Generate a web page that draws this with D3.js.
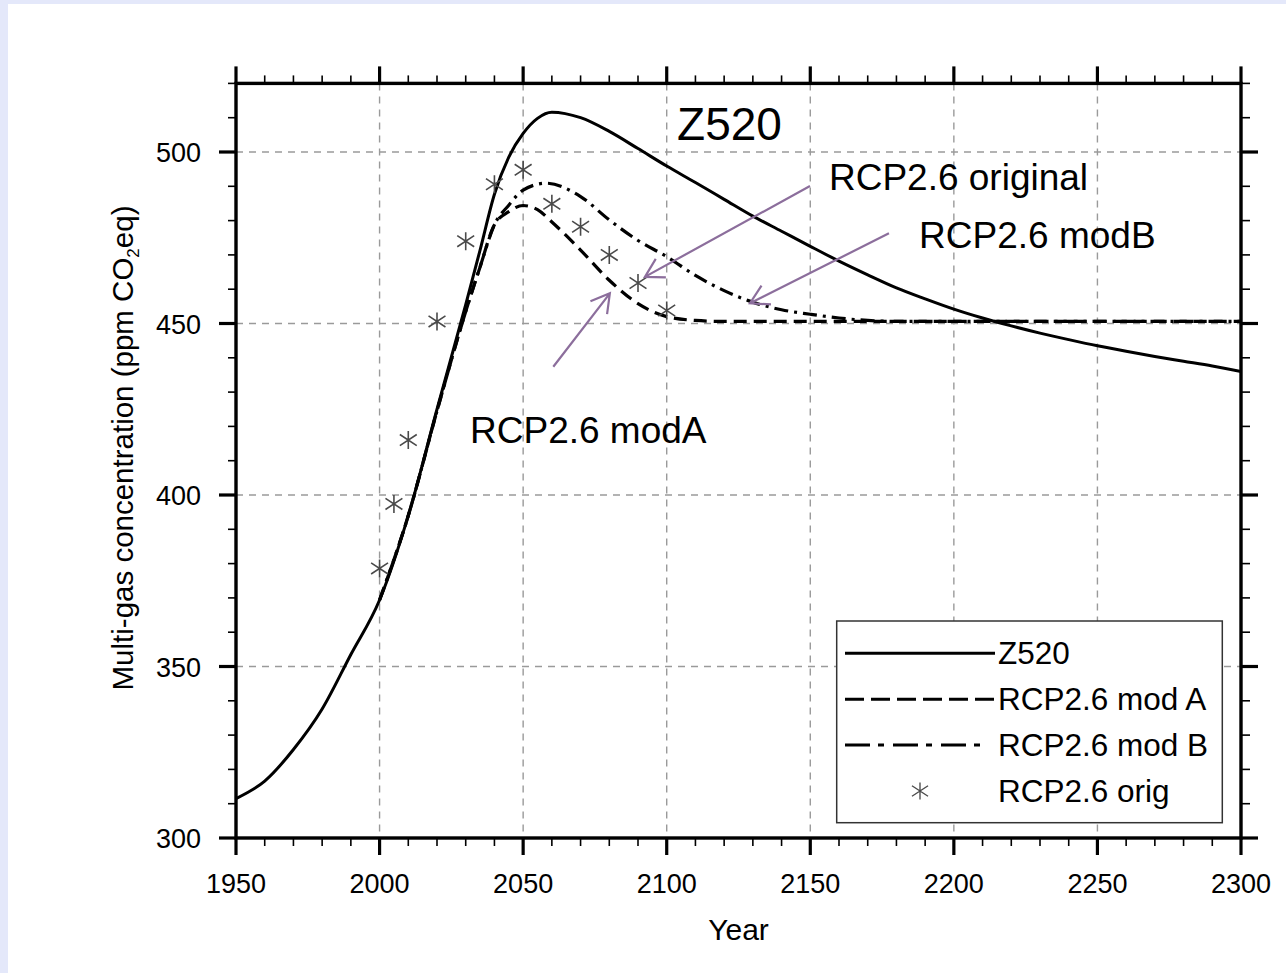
<!DOCTYPE html>
<html><head><meta charset="utf-8">
<script src="https://cdn.jsdelivr.net/npm/d3@7"></script>
<style>
body{margin:0;background:#fff}
svg{display:block}
text{font-family:"Liberation Sans",Arial,Helvetica,sans-serif;fill:#000}
</style>
</head><body>
<svg id="chart" width="1286" height="973"></svg>
<script>
// ---------------- data ----------------
const z520Years  = [1950,1960,1970,1980,1990,2000,2010,2020,2030,2035,2040,2045,2050,2055,2060,2070,2080,2090,2100,2110,2120,2130,2140,2150,2160,2170,2180,2190,2200,2210,2220,2230,2240,2250,2260,2270,2280,2290,2300];
const z520Values = [311.5,316.6,325.8,337.6,353.5,369.4,394.0,425.0,455.5,471.4,487.7,498.5,505.4,509.8,511.6,510.0,506.0,501.0,495.9,491.1,486.2,481.3,476.9,472.5,468.2,464.2,460.4,457.2,454.2,451.6,449.3,447.2,445.3,443.5,441.9,440.4,439.0,437.6,436.0];

const modAYears  = [2000,2010,2020,2030,2035,2040,2045,2050,2055,2060,2070,2080,2090,2100,2110,2120,2150,2200,2250,2300];
const modAValues = [369.4,394.0,424.5,453.5,466.5,478.8,482.6,484.4,483.2,479.6,471.4,462.6,455.8,452.0,450.9,450.6,450.6,450.6,450.6,450.6];

const modBYears  = [2000,2010,2020,2030,2035,2040,2045,2050,2058,2070,2080,2090,2100,2110,2120,2130,2140,2150,2160,2170,2180,2200,2250,2300];
const modBValues = [369.4,394.0,424.5,453.5,466.5,478.8,484.5,488.9,490.9,487.0,480.2,474.2,469.5,464.0,459.6,456.2,454.0,452.7,451.6,450.9,450.6,450.6,450.6,450.6];

const origYears  = [2000,2005,2010,2020,2030,2040,2050,2060,2070,2080,2090,2100];
const origValues = [378.6,397.4,416.0,450.6,474.0,490.6,494.8,484.9,478.2,470.0,461.8,453.8];

const xTickValues = [1950,2000,2050,2100,2150,2200,2250,2300];
const xTickLabels = ["1950","2000","2050","2100","2150","2200","2250","2300"];
const yTickValues = [300,350,400,450,500];
const yTickLabels = ["300","350","400","450","500"];
const xDomain = [1950,2300];
const yDomain = [300,520];

const seriesNames = ["Z520","RCP2.6 mod A","RCP2.6 mod B","RCP2.6 orig"];
const titleText = "Z520";
const xTitle = "Year";

// annotations (anchored in data space)
const annotations = [
  {text:"RCP2.6 original", x:2156.5, y:488.9, from:[2149.9,490.1], to:[2092.4,463.6]},
  {text:"RCP2.6 modB",     x:2187.9, y:472.0, from:[2177.4,476.3], to:[2129.0,455.9]},
  {text:"RCP2.6 modA",     x:2031.5, y:415.2, from:[2060.5,437.4], to:[2080.2,458.8]}
];
const titlePos = {x:2103.6, y:503.6};

// ---------------- layout ----------------
const W = 1286, H = 973;
const L = 236, R = 1241, T = 83.4, B = 838;
const svg = d3.select("#chart");

svg.append("rect").attr("width",W).attr("height",H).attr("fill","#e4e8fa");
svg.append("rect").attr("x",8).attr("y",4).attr("width",W-8).attr("height",H-4).attr("fill","#ffffff");

const x = d3.scaleLinear().domain(xDomain).range([L,R]);
const y = d3.scaleLinear().domain(yDomain).range([B,T]);

// grid
const grid = svg.append("g").attr("stroke","#9a9a9a").attr("stroke-width",1.4).attr("stroke-dasharray","7,6");
xTickValues.filter(v=>v>xDomain[0]&&v<xDomain[1]).forEach(v=>{
  grid.append("line").attr("x1",x(v)).attr("x2",x(v)).attr("y1",T).attr("y2",B);
});
yTickValues.filter(v=>v>yDomain[0]&&v<yDomain[1]).forEach(v=>{
  grid.append("line").attr("y1",y(v)).attr("y2",y(v)).attr("x1",L).attr("x2",R);
});

// lines
const lineGen = (xs,vs)=> d3.line().curve(d3.curveMonotoneX)(xs.map((d,i)=>[x(d),y(vs[i])]));
svg.append("clipPath").attr("id","pc").append("rect").attr("x",L).attr("y",T).attr("width",R-L).attr("height",B-T);
const plot = svg.append("g").attr("clip-path","url(#pc)");

plot.append("path").attr("d",lineGen(z520Years,z520Values)).attr("fill","none").attr("stroke","#000").attr("stroke-width",3);
plot.append("path").attr("d",lineGen(modBYears,modBValues)).attr("fill","none").attr("stroke","#000").attr("stroke-width",3.2).attr("stroke-dasharray","14,6,3,6");
plot.append("path").attr("d",lineGen(modAYears,modAValues)).attr("fill","none").attr("stroke","#000").attr("stroke-width",3.2).attr("stroke-dasharray","13,7");

// asterisk symbol
const star = {draw(ctx,size){const r=Math.sqrt(size)/2;ctx.moveTo(0,-r);ctx.lineTo(0,r);ctx.moveTo(-r*0.94,-r*0.62);ctx.lineTo(r*0.94,r*0.62);ctx.moveTo(-r*0.94,r*0.62);ctx.lineTo(r*0.94,-r*0.62);}};
const starPath = d3.symbol().type(star).size(18*18)();
svg.append("g").selectAll("path").data(origYears).join("path")
  .attr("d",starPath).attr("transform",(d,i)=>`translate(${x(d)},${y(origValues[i])})`)
  .attr("fill","none").attr("stroke","#4a4a4a").attr("stroke-width",1.6);

// frame and ticks
const ax = svg.append("g").attr("stroke","#000");
const xMinor = d3.range(xDomain[0],xDomain[1]+1,10).filter(v=>!xTickValues.includes(v));
const yMinor = d3.range(yDomain[0],yDomain[1]+1,10).filter(v=>!yTickValues.includes(v));
xTickValues.forEach(v=>{
  ax.append("line").attr("x1",x(v)).attr("x2",x(v)).attr("y1",B).attr("y2",B+17).attr("stroke-width",3.2);
  ax.append("line").attr("x1",x(v)).attr("x2",x(v)).attr("y1",T).attr("y2",T-17).attr("stroke-width",3.2);
});
xMinor.forEach(v=>{
  ax.append("line").attr("x1",x(v)).attr("x2",x(v)).attr("y1",B).attr("y2",B+8).attr("stroke-width",1.6);
  ax.append("line").attr("x1",x(v)).attr("x2",x(v)).attr("y1",T).attr("y2",T-8).attr("stroke-width",1.6);
});
yTickValues.forEach(v=>{
  ax.append("line").attr("y1",y(v)).attr("y2",y(v)).attr("x1",L).attr("x2",L-17).attr("stroke-width",3.2);
  ax.append("line").attr("y1",y(v)).attr("y2",y(v)).attr("x1",R).attr("x2",R+17).attr("stroke-width",3.2);
});
yMinor.forEach(v=>{
  ax.append("line").attr("y1",y(v)).attr("y2",y(v)).attr("x1",L).attr("x2",L-8).attr("stroke-width",1.6);
  ax.append("line").attr("y1",y(v)).attr("y2",y(v)).attr("x1",R).attr("x2",R+9).attr("stroke-width",1.6);
});
ax.append("rect").attr("x",L).attr("y",T).attr("width",R-L).attr("height",B-T).attr("fill","none").attr("stroke-width",3.4);

// tick labels
svg.append("g").selectAll("text").data(xTickValues).join("text")
  .attr("x",d=>x(d)).attr("y",B+55).attr("text-anchor","middle").attr("font-size",27)
  .text((d,i)=>xTickLabels[i]);
svg.append("g").selectAll("text").data(yTickValues).join("text")
  .attr("x",L-35).attr("y",d=>y(d)+10).attr("text-anchor","end").attr("font-size",27)
  .text((d,i)=>yTickLabels[i]);

// axis titles
svg.append("text").attr("x",(L+R)/2).attr("y",940).attr("text-anchor","middle").attr("font-size",30).text(xTitle);
const yt = svg.append("text").attr("text-anchor","middle").attr("font-size",29.5)
  .attr("transform",`translate(133,448) rotate(-90)`);
yt.append("tspan").text("Multi-gas concentration (ppm CO");
yt.append("tspan").attr("font-size",17).attr("dy",6).text("2");
yt.append("tspan").attr("dy",-6).text("eq)");

// title
svg.append("text").attr("x",x(titlePos.x)).attr("y",y(titlePos.y)).attr("font-size",46).text(titleText);

// annotations with arrows
const arrowCol = "#8c6e9c";
annotations.forEach(a=>{
  svg.append("text").attr("x",x(a.x)).attr("y",y(a.y)).attr("font-size",37).text(a.text);
  const x1=x(a.from[0]), y1=y(a.from[1]), x2=x(a.to[0]), y2=y(a.to[1]);
  const ang = Math.atan2(y1-y2,x1-x2), hl=21, ha=Math.PI/6;
  const p = d3.path();
  p.moveTo(x1,y1); p.lineTo(x2,y2);
  p.moveTo(x2+hl*Math.cos(ang+ha), y2+hl*Math.sin(ang+ha)); p.lineTo(x2,y2);
  p.lineTo(x2+hl*Math.cos(ang-ha), y2+hl*Math.sin(ang-ha));
  svg.append("path").attr("d",p.toString()).attr("fill","none").attr("stroke",arrowCol).attr("stroke-width",2.2);
});

// legend
const lg = svg.append("g");
lg.append("rect").attr("x",836.7).attr("y",621).attr("width",385.6).attr("height",201.7).attr("fill","#fff").attr("stroke","#333").attr("stroke-width",1.5);
const rowY = [653.3,699.3,745,791];
const dashes = [null,"19,7","25,8,6,9",null];
seriesNames.forEach((n,i)=>{
  if(i<3){
    lg.append("line").attr("x1",845).attr("x2",i===2?987:995).attr("y1",rowY[i]).attr("y2",rowY[i])
      .attr("stroke","#000").attr("stroke-width",3).attr("stroke-dasharray",dashes[i]);
  } else {
    lg.append("path").attr("d",starPath).attr("transform",`translate(920,${rowY[i]}) scale(0.95)`)
      .attr("fill","none").attr("stroke","#4a4a4a").attr("stroke-width",1.4);
  }
  lg.append("text").attr("x",998).attr("y",rowY[i]+11).attr("font-size",31.5).text(n);
});
</script>
</body></html>
